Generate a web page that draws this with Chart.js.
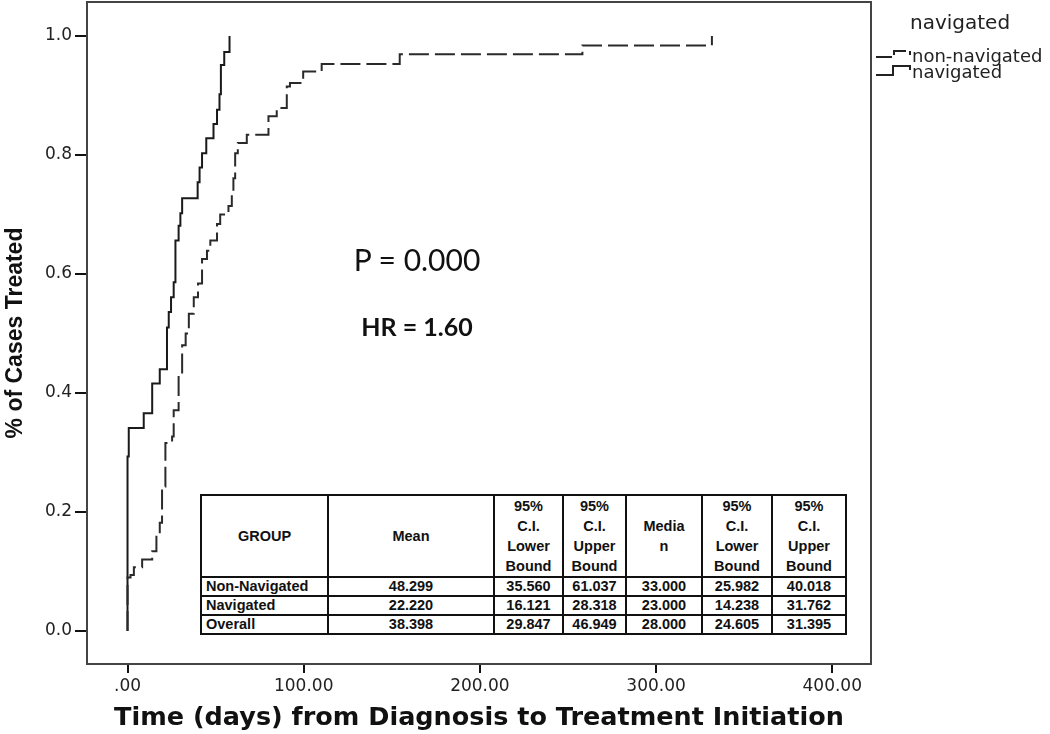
<!DOCTYPE html>
<html lang="en">
<head>
  <meta charset="UTF-8" />
  <title>Time to Treatment Initiation</title>
  <script src="https://cdn.jsdelivr.net/npm/chart.js"></script>
  <style>
    body { margin: 0; background: #fff; }
    #wrap { position: relative; width: 1050px; height: 734px; }
    .note { position: absolute; transform: translate(-50%, -50%); line-height: 1; white-space: nowrap; color: #111; font-family: Lato, "Open Sans", sans-serif; }
    #pval { left: 417px; top: 259px; font-size: 30px; }
    #hr { left: 417px; top: 326px; font-size: 25px; font-weight: bold; }
    #legend { position: absolute; left: 872px; top: 0; width: 178px; height: 90px; font-family: "DejaVu Sans", sans-serif; color: #222; }
    #legend .ttl { position: absolute; left: 38px; top: 12px; font-size: 20px; line-height: 1; }
    #legend .item { position: absolute; left: 40px; font-size: 18px; line-height: 1; }
    #legend svg { position: absolute; left: 0; top: 0; }
    #stats { position: absolute; left: 200px; top: 494px; width: 647px; border-collapse: collapse; table-layout: fixed;
             font-family: "Liberation Sans", Arial, sans-serif; font-weight: bold; font-size: 14.5px; color: #111; background: #fff; }
    #stats td { border: 2px solid #111; padding: 0; text-align: center; height: 17px; line-height: 17px; }
    #stats tr.head td { height: 78px; line-height: 20px; }
    #stats td.grp { text-align: left; padding-left: 4px; }
  </style>
</head>
<body>
  <div id="wrap">
    <canvas id="kmChart"></canvas>
    <div class="note" id="pval">P = 0.000</div>
    <div class="note" id="hr">HR = 1.60</div>
    <div id="legend">
      <svg width="60" height="90">
        <polyline points="4,57 22,57 22,51 38,51 38,55" fill="none" stroke="#222" stroke-width="2" stroke-dasharray="16,4" />
        <polyline points="4,75 21,75 21,66 38,66 38,70" fill="none" stroke="#222" stroke-width="2" />
      </svg>
      <div class="ttl">navigated</div>
      <div class="item" style="top:47px">non-navigated</div>
      <div class="item" style="top:63px">navigated</div>
    </div>
    <table id="stats"></table>
  </div>

  <script>
    // Kaplan-Meier style steps: time in days, cumulative share treated
    const navTime = [0, 0, 0.7, 9.2, 14, 18.3, 22.4, 23.4, 24.7, 26.2, 27.2, 29, 30, 31, 39.8, 40.9, 42.3, 44.7, 48.8, 50.8, 52.2, 53, 54.9, 57.9];
    const navRate = [0, 0.293, 0.341, 0.366, 0.416, 0.44, 0.51, 0.536, 0.561, 0.586, 0.656, 0.681, 0.702, 0.727, 0.754, 0.779, 0.803, 0.828, 0.852, 0.876, 0.902, 0.951, 0.973, 1.0];

    const nonNavTime = [0, 0, 1.7, 3.6, 8.3, 14, 16.4, 18.3, 19.6, 21.5, 25.3, 26.2, 29, 31, 33, 34.8, 37.6, 40, 42.3, 45.1, 47, 50.8, 52.6, 57.3, 59.2, 60.1, 61.1, 62.6, 67.7, 80, 84.7, 90.4, 92.2, 99.7, 110.2, 154.5, 258.2, 331.7];
    const nonNavRate = [0, 0.09, 0.094, 0.107, 0.12, 0.134, 0.162, 0.182, 0.243, 0.316, 0.327, 0.371, 0.432, 0.48, 0.5, 0.533, 0.561, 0.584, 0.625, 0.639, 0.656, 0.684, 0.7, 0.714, 0.734, 0.761, 0.803, 0.82, 0.834, 0.865, 0.879, 0.915, 0.921, 0.94, 0.953, 0.969, 0.984, 1.0];

    const xTickValues = [0, 100, 200, 300, 400];
    const xTickLabels = [".00", "100.00", "200.00", "300.00", "400.00"];
    const yTickValues = [0, 0.2, 0.4, 0.6, 0.8, 1.0];
    const yTickLabels = ["0.0", "0.2", "0.4", "0.6", "0.8", "1.0"];

    // summary table
    const tableHead = ["GROUP", "Mean", "95%<br>C.I.<br>Lower<br>Bound", "95%<br>C.I.<br>Upper<br>Bound", "Media<br>n", "95%<br>C.I.<br>Lower<br>Bound", "95%<br>C.I.<br>Upper<br>Bound"];
    const groups = ["Non-Navigated", "Navigated", "Overall"];
    const means = ["48.299", "22.220", "38.398"];
    const meanLow = ["35.560", "16.121", "29.847"];
    const meanHigh = ["61.037", "28.318", "46.949"];
    const medians = ["33.000", "23.000", "28.000"];
    const medLow = ["25.982", "14.238", "24.605"];
    const medHigh = ["40.018", "31.762", "31.395"];
    const colWidths = [127, 166, 69, 63, 76, 70, 74];

    function buildTable() {
      const t = document.getElementById("stats");
      let html = "<colgroup>" + colWidths.map(w => `<col style="width:${w}px">`).join("") + "</colgroup>";
      html += '<tr class="head">' + tableHead.map(h => `<td>${h}</td>`).join("") + "</tr>";
      groups.forEach((g, i) => {
        html += `<tr><td class="grp">${g}</td><td>${means[i]}</td><td>${meanLow[i]}</td><td>${meanHigh[i]}</td><td>${medians[i]}</td><td>${medLow[i]}</td><td>${medHigh[i]}</td></tr>`;
      });
      t.innerHTML = html;
    }
    buildTable();

    const toPoints = (xs, ys) => xs.map((x, i) => ({ x, y: ys[i] }));

    const frame = {
      id: "frame",
      beforeDatasetsDraw(chart) {
        const { ctx, chartArea: a } = chart;
        ctx.save();
        ctx.strokeStyle = "#444";
        ctx.lineWidth = 2;
        ctx.strokeRect(a.left, a.top, a.right - a.left, a.bottom - a.top);
        ctx.restore();
      }
    };

    const noPad = s => { s.paddingTop = 0; s.paddingBottom = 0; s.paddingLeft = 0; s.paddingRight = 0; };
    const tickFont = { family: "DejaVu Sans", size: 17 };

    new Chart(document.getElementById("kmChart"), {
      type: "line",
      data: {
        datasets: [
          {
            label: "non-navigated",
            data: toPoints(nonNavTime, nonNavRate),
            stepped: true,
            borderColor: "#2a2a2a",
            borderWidth: 2,
            borderDash: [20, 6],
            pointRadius: 0,
            fill: false
          },
          {
            label: "navigated",
            data: toPoints(navTime, navRate),
            stepped: true,
            borderColor: "#1a1a1a",
            borderWidth: 2,
            pointRadius: 0,
            fill: false
          }
        ]
      },
      options: {
        responsive: true,
        maintainAspectRatio: false,
        animation: false,
        layout: { padding: { left: 0, top: 2, right: 179, bottom: 0 } },
        plugins: { legend: { display: false }, tooltip: { enabled: false } },
        scales: {
          x: {
            type: "linear",
            min: -23,
            max: 422,
            afterFit: s => { s.height = 70; noPad(s); },
            afterBuildTicks: s => { s.ticks = xTickValues.map(v => ({ value: v })); },
            grid: { drawOnChartArea: false, tickLength: 9, color: "#111", lineWidth: 2 },
            border: { color: "#111", width: 2 },
            ticks: { font: tickFont, color: "#222", padding: 3, maxRotation: 0, callback: (v, i) => xTickLabels[i] },
            title: {
              display: true,
              text: "Time (days) from Diagnosis to Treatment Initiation",
              font: { family: "DejaVu Sans", size: 25.5, weight: "bold" },
              color: "#111",
              padding: { top: 0, bottom: 0 }
            }
          },
          y: {
            min: -0.0555,
            max: 1.057,
            afterFit: s => { s.width = 87; noPad(s); },
            afterBuildTicks: s => { s.ticks = yTickValues.map(v => ({ value: v })); },
            grid: { drawOnChartArea: false, tickLength: 12, color: "#111", lineWidth: 2 },
            border: { color: "#111", width: 2 },
            ticks: { font: tickFont, color: "#222", padding: 3, callback: (v, i) => yTickLabels[i] },
            title: {
              display: true,
              text: "% of Cases Treated",
              font: { family: "Liberation Sans", size: 23, weight: "bold" },
              color: "#111",
              padding: { top: 2, bottom: 0 }
            }
          }
        }
      },
      plugins: [frame]
    });
  </script>
</body>
</html>
